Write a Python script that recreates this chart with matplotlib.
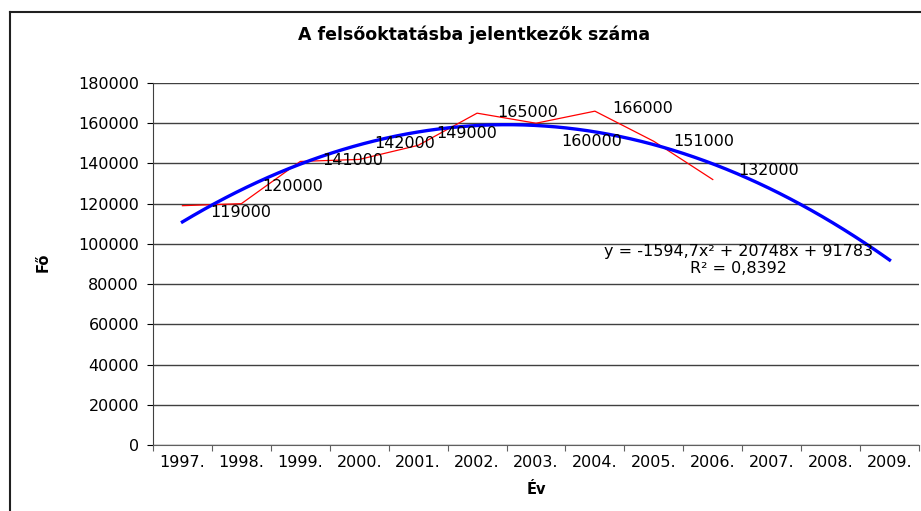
import numpy as np
import matplotlib
matplotlib.use("Agg")
import matplotlib.pyplot as plt
from matplotlib.lines import Line2D

plt.rcParams['font.family'] = ['DejaVu Sans']

years = ['1997.', '1998.', '1999.', '2000.', '2001.', '2002.', '2003.',
         '2004.', '2005.', '2006.', '2007.', '2008.', '2009.']
applicants = [119000, 120000, 141000, 142000, 149000, 165000, 160000,
              166000, 151000, 132000]
# trendline coefficients as printed on the chart (x = 1, 2, ... per year)
trend_coef = [-1594.7, 20748, 91783]
trend_text = 'y = -1594,7x² + 20748x + 91783\nR² = 0,8392'

# label offsets in pixels (dx, dy) from each point
label_off = [(58, -7), (51, 17), (52, 1), (45, 16), (49, 12), (51, 1),
             (56, -18), (48, 3), (50, 0), (56, 9)]

W, H = 921, 511
fs = 11.5
fig = plt.figure(figsize=(W / 100, H / 100), dpi=100)
ax = fig.add_axes([153 / W, 1 - 445 / H, (919 - 153) / W, (445 - 83) / H])

xi = np.arange(len(applicants))
ax.plot(xi, applicants, color='#ff0000', lw=0.9, zorder=3)

xt = np.linspace(1, len(years), 200)
ax.plot(xt - 1, np.polyval(trend_coef, xt), color='#0000ff', lw=2.4, zorder=4)

for x, v, (dx, dy) in zip(xi, applicants, label_off):
    ax.annotate(str(v), (x, v), xytext=(dx * 0.72, dy * 0.72),
                textcoords='offset points', ha='center', va='center',
                fontsize=fs, zorder=5)

ax.text(9.43, 92000, trend_text, ha='center', va='center', fontsize=fs,
        linespacing=1.1, zorder=5)

ax.set_ylim(0, 180000)
ax.set_yticks(np.arange(0, 180001, 20000))
ax.set_xlim(-0.5, len(years) - 0.5)
ax.set_xticks(np.arange(-0.5, len(years), 1))
ax.set_xticklabels([])
ax.set_xticks(np.arange(len(years)), minor=True)
ax.set_xticklabels(years, minor=True)
ax.tick_params(axis='x', which='minor', length=0, pad=7, labelsize=fs)
ax.tick_params(axis='x', which='major', length=4, direction='out', color='#606060')
ax.tick_params(axis='y', length=4, direction='out', pad=6, labelsize=fs)

ax.grid(axis='y', color='#404040', lw=1)
ax.set_axisbelow(True)
for s in ['top', 'right']:
    ax.spines[s].set_visible(False)
ax.spines['left'].set_color('#404040')
ax.spines['bottom'].set_color('#606060')

fig.text(474 / W, 1 - 35 / H, 'A felsőoktatásba jelentkezők száma',
         ha='center', va='center', fontsize=12.5, fontweight='bold')
fig.text(536 / W, 1 - 490 / H, 'Év', ha='center', va='center',
         fontsize=10.5, fontweight='bold')
fig.text(43 / W, 1 - 262 / H, 'Fő', ha='center', va='center', rotation=90,
         fontsize=10.5, fontweight='bold')

# chart area border (cut off on right and bottom)
fig.add_artist(Line2D([10 / W, 10 / W], [0, 1 - 12 / H], color='#202020', lw=1.5))
fig.add_artist(Line2D([10 / W, 1], [1 - 12 / H, 1 - 12 / H], color='#202020', lw=1.5))

fig.savefig('out.png', dpi=100)
